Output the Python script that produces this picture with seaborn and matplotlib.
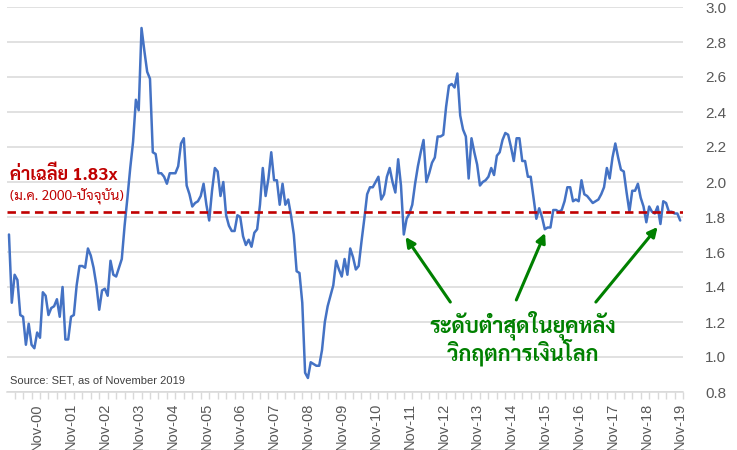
import numpy as np
import pandas as pd
import matplotlib
matplotlib.use('Agg')
import matplotlib.pyplot as plt
import seaborn as sns
from matplotlib import font_manager, ft2font

# monthly P/BV of the SET index, Jan-2000 .. Nov-2019
pbv_2000 = [1.70, 1.31, 1.47, 1.44, 1.24, 1.23, 1.07, 1.19, 1.07, 1.05, 1.14, 1.11]
pbv_2001 = [1.37, 1.35, 1.24, 1.28, 1.29, 1.33, 1.23, 1.40, 1.10, 1.10, 1.23, 1.24]
pbv_2002 = [1.41, 1.52, 1.52, 1.51, 1.62, 1.58, 1.51, 1.41, 1.27, 1.38, 1.39, 1.35]
pbv_2003 = [1.55, 1.47, 1.46, 1.51, 1.56, 1.75, 1.91, 2.08, 2.23, 2.47, 2.41, 2.88]
pbv_2004 = [2.75, 2.63, 2.59, 2.17, 2.16, 2.05, 2.05, 2.03, 1.99, 2.05, 2.05, 2.05]
pbv_2005 = [2.09, 2.22, 2.25, 1.98, 1.93, 1.86, 1.88, 1.89, 1.92, 1.99, 1.87, 1.78]
pbv_2006 = [1.95, 2.08, 2.06, 1.92, 2.00, 1.81, 1.75, 1.72, 1.72, 1.81, 1.80, 1.69]
pbv_2007 = [1.64, 1.67, 1.63, 1.71, 1.73, 1.87, 2.08, 1.92, 2.02, 2.17, 2.01, 2.01]
pbv_2008 = [1.87, 1.99, 1.87, 1.90, 1.81, 1.70, 1.49, 1.48, 1.31, 0.91, 0.88, 0.97]
pbv_2009 = [0.96, 0.95, 0.95, 1.04, 1.20, 1.29, 1.35, 1.41, 1.55, 1.50, 1.46, 1.56]
pbv_2010 = [1.47, 1.62, 1.57, 1.50, 1.52, 1.66, 1.79, 1.93, 1.97, 1.97, 2.00, 2.03]
pbv_2011 = [1.90, 1.93, 2.03, 2.08, 2.00, 1.94, 2.13, 1.98, 1.70, 1.79, 1.82, 1.87]
pbv_2012 = [1.99, 2.09, 2.17, 2.24, 2.00, 2.05, 2.11, 2.14, 2.26, 2.26, 2.27, 2.43]
pbv_2013 = [2.55, 2.56, 2.54, 2.62, 2.38, 2.30, 2.26, 2.02, 2.25, 2.17, 2.10, 1.98]
pbv_2014 = [2.00, 2.01, 2.03, 2.08, 2.04, 2.15, 2.17, 2.24, 2.28, 2.27, 2.20, 2.12]
pbv_2015 = [2.25, 2.25, 2.12, 2.12, 2.03, 2.03, 1.91, 1.79, 1.85, 1.80, 1.73, 1.74]
pbv_2016 = [1.74, 1.84, 1.84, 1.83, 1.84, 1.89, 1.97, 1.97, 1.89, 1.90, 1.89, 2.01]
pbv_2017 = [1.93, 1.92, 1.90, 1.88, 1.89, 1.90, 1.93, 1.97, 2.08, 2.02, 2.14, 2.22]
pbv_2018 = [2.14, 2.07, 2.06, 1.94, 1.83, 1.95, 1.95, 1.99, 1.91, 1.86, 1.77, 1.86]
pbv_2019 = [1.83, 1.82, 1.86, 1.76, 1.89, 1.88, 1.83, 1.83, 1.82, 1.82, 1.78]

average_pbv = 1.83

tick_labels = ['Nov-00', 'Nov-01', 'Nov-02', 'Nov-03', 'Nov-04', 'Nov-05', 'Nov-06',
               'Nov-07', 'Nov-08', 'Nov-09', 'Nov-10', 'Nov-11', 'Nov-12', 'Nov-13',
               'Nov-14', 'Nov-15', 'Nov-16', 'Nov-17', 'Nov-18', 'Nov-19']

avg_label = 'ค่าเฉลี่ย 1.83x'
avg_sublabel = '(ม.ค. 2000-ปัจจุบัน)'
low_label_1 = 'ระดับต่ำสุดในยุคหลัง'
low_label_2 = 'วิกฤตการเงินโลก'
source_label = 'Source: SET, as of November 2019'

pbv = (pbv_2000 + pbv_2001 + pbv_2002 + pbv_2003 + pbv_2004 + pbv_2005 + pbv_2006
       + pbv_2007 + pbv_2008 + pbv_2009 + pbv_2010 + pbv_2011 + pbv_2012 + pbv_2013
       + pbv_2014 + pbv_2015 + pbv_2016 + pbv_2017 + pbv_2018 + pbv_2019)
df = pd.DataFrame({'month': np.arange(len(pbv)), 'pbv': pbv})

# find an installed font with Thai glyphs, better one that also has a bold face
preferred = ['Noto Sans Thai', 'Noto Sans Thai UI', 'Sarabun', 'Tahoma', 'Leelawadee UI',
             'Loma', 'Garuda', 'Waree', 'Umpush', 'Norasi', 'Kinnari']
thai_faces = {}
for f in font_manager.fontManager.ttflist:
    try:
        if ft2font.FT2Font(f.fname).get_char_index(ord('ก')):
            w = f.weight if isinstance(f.weight, int) else (700 if 'bold' in str(f.weight) else 400)
            thai_faces.setdefault(f.name, set()).add(w)
    except Exception:
        continue

def has_bold(name):
    return any(w >= 600 for w in thai_faces.get(name, []))

ordered = [n for n in preferred if n in thai_faces] + sorted(n for n in thai_faces if n not in preferred)
thai_font = 'DejaVu Sans'
for name in ordered:
    if has_bold(name):
        thai_font = name
        break
else:
    if ordered:
        thai_font = ordered[0]

sns.set_style('white')
plt.rcParams['font.family'] = ['Liberation Sans', 'DejaVu Sans']

fig = plt.figure(figsize=(7.37, 4.5), dpi=100)
ax = fig.add_axes([7 / 737, 1 - 392 / 450, 676 / 737, 385 / 450])

sns.lineplot(data=df, x='month', y='pbv', color='#4472C4', linewidth=1.8, ax=ax, zorder=2)
ax.axhline(average_pbv, color='#C00000', linewidth=1.9, linestyle=(0, (3.2, 2.0)), zorder=3)

ax.set_xlim(-0.7, 238.3)
ax.set_ylim(0.8, 3.0)
ax.set_xlabel('')
ax.set_ylabel('')

# y axis on the right, gridlines only
ax.yaxis.tick_right()
ax.set_yticks(np.arange(0.8, 3.01, 0.2))
ax.set_yticklabels([f'{v:.1f}' for v in np.arange(0.8, 3.01, 0.2)])
ax.tick_params(axis='y', length=0, pad=16, labelsize=11, labelcolor='#595959')
ax.grid(axis='y', color='#D9D9D9', linewidth=1.1)
ax.set_axisbelow(True)

# x axis: Nov of every year labelled, quarterly tick marks
ax.set_xticks(np.arange(10, len(pbv), 12))
ax.set_xticklabels(tick_labels, rotation=90)
ax.set_xticks(np.arange(2, len(pbv) + 1, 3), minor=True)
ax.tick_params(axis='x', which='major', length=0, pad=8, labelsize=10.5, labelcolor='#595959')
ax.tick_params(axis='x', which='minor', length=5, width=1, color='#D9D9D9', bottom=True)

for side in ['top', 'left', 'right']:
    ax.spines[side].set_visible(False)
ax.spines['bottom'].set_color('#D9D9D9')
ax.spines['bottom'].set_linewidth(1.1)

# annotations
ax.text(0.35, 2.04, avg_label, color='#C00000', fontsize=13, fontweight='bold',
        family=[thai_font, 'Liberation Sans', 'DejaVu Sans'], ha='left', va='center')
ax.text(0.35, 1.914, avg_sublabel, color='#C00000', fontsize=10,
        family=[thai_font, 'Liberation Sans', 'DejaVu Sans'], ha='left', va='center')

ax.text(182.3, 1.183, low_label_1, color='#008000', fontsize=15.5, fontweight='bold',
        family=[thai_font, 'DejaVu Sans'], ha='center', va='center')
ax.text(182.3, 1.03, low_label_2, color='#008000', fontsize=15.5, fontweight='bold',
        family=[thai_font, 'DejaVu Sans'], ha='center', va='center')

arrows = [((156.5, 1.314), (140.6, 1.686)),
          ((179.9, 1.326), (190.1, 1.709)),
          ((208.1, 1.314), (230.0, 1.743))]
for tail, head in arrows:
    ax.annotate('', xy=head, xytext=tail,
                arrowprops=dict(arrowstyle='-|>', color='#008000', lw=2.2,
                                mutation_scale=14, shrinkA=0, shrinkB=0))

ax.text(0.004, 0.031, source_label, transform=ax.transAxes, color='#404040',
        fontsize=8, ha='left', va='center')

plt.savefig('out.png', dpi=100)
